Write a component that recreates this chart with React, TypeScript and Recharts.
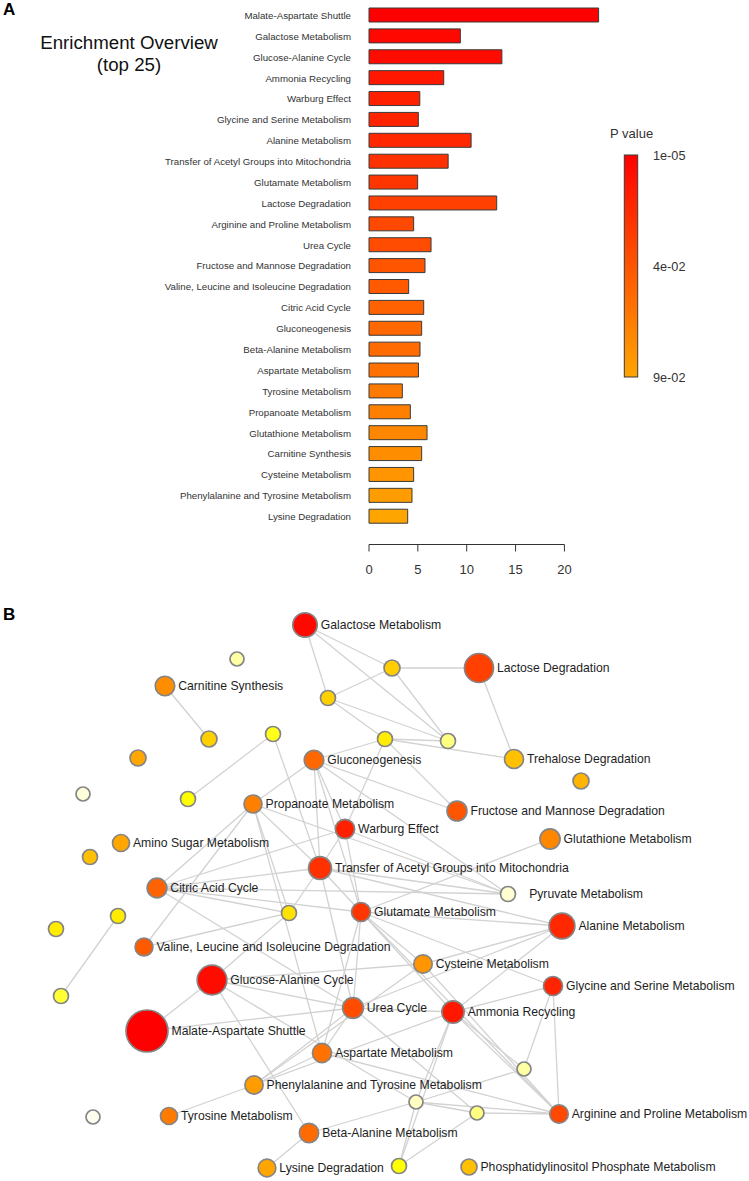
import React from 'react';
import {
  BarChart,
  Bar,
  XAxis,
  YAxis,
  Cell,
  ScatterChart,
  Scatter,
  ZAxis,
  ReferenceLine,
  Customized,
} from 'recharts';

const FONT = '"Liberation Sans", Arial, Helvetica, sans-serif';

// ---- Panel A: top 25 enriched pathways ----
const pathways = [
  'Malate-Aspartate Shuttle',
  'Galactose Metabolism',
  'Glucose-Alanine Cycle',
  'Ammonia Recycling',
  'Warburg Effect',
  'Glycine and Serine Metabolism',
  'Alanine Metabolism',
  'Transfer of Acetyl Groups into Mitochondria',
  'Glutamate Metabolism',
  'Lactose Degradation',
  'Arginine and Proline Metabolism',
  'Urea Cycle',
  'Fructose and Mannose Degradation',
  'Valine, Leucine and Isoleucine Degradation',
  'Citric Acid Cycle',
  'Gluconeogenesis',
  'Beta-Alanine Metabolism',
  'Aspartate Metabolism',
  'Tyrosine Metabolism',
  'Propanoate Metabolism',
  'Glutathione Metabolism',
  'Carnitine Synthesis',
  'Cysteine Metabolism',
  'Phenylalanine and Tyrosine Metabolism',
  'Lysine Degradation',
];

// fold enrichment
const enrichment = [
  23.5, 9.35, 13.6, 7.65, 5.2, 5.05, 10.45, 8.1, 4.98, 13.07, 4.57, 6.35, 5.73,
  4.06, 5.6, 5.39, 5.22, 5.06, 3.41, 4.23, 5.94, 5.39, 4.57, 4.4, 3.96,
];

const pValues = [
  0.00001, 0.0039, 0.0058, 0.011, 0.015, 0.017, 0.019, 0.023, 0.025, 0.03,
  0.034, 0.036, 0.04, 0.043, 0.048, 0.051, 0.054, 0.058, 0.063, 0.066, 0.071,
  0.075, 0.08, 0.085, 0.09,
];

const xTicks = [0, 5, 10, 15, 20];

const legendTicks = [
  { label: '1e-05', p: 0.00001 },
  { label: '4e-02', p: 0.04 },
  { label: '9e-02', p: 0.09 },
];

// ---- Panel B: pathway network ----
type NodeRow = { id: string; label: string; x: number; y: number; v?: number; p?: number };

// layout coordinates of the network (named nodes take ratio / p from panel A)
const networkNodes: NodeRow[] = [
  { id: 'u1', label: '', x: 237, y: 69, v: 1.0, p: 0.83 },
  { id: 'u2', label: '', x: 328, y: 108, v: 1.8, p: 0.3 },
  { id: 'u3', label: '', x: 392, y: 78, v: 2.6, p: 0.28 },
  { id: 'u4', label: '', x: 209, y: 149, v: 2.6, p: 0.3 },
  { id: 'u5', label: '', x: 273, y: 144, v: 1.8, p: 0.55 },
  { id: 'u6', label: '', x: 385, y: 149, v: 1.8, p: 0.45 },
  { id: 'u7', label: '', x: 448, y: 151, v: 1.8, p: 0.75 },
  { id: 'u8', label: '', x: 138, y: 168, v: 2.6, p: 0.1 },
  { id: 'u9', label: '', x: 581, y: 191, v: 2.6, p: 0.15 },
  { id: 'u10', label: '', x: 83, y: 204, v: 1.0, p: 0.95 },
  { id: 'u11', label: '', x: 188, y: 209, v: 1.8, p: 0.5 },
  { id: 'u12', label: '', x: 90, y: 267, v: 1.8, p: 0.2 },
  { id: 'u13', label: '', x: 118, y: 326, v: 1.8, p: 0.45 },
  { id: 'u14', label: '', x: 56, y: 339, v: 1.8, p: 0.45 },
  { id: 'u15', label: '', x: 289, y: 323, v: 1.8, p: 0.4 },
  { id: 'u16', label: '', x: 61, y: 406, v: 1.8, p: 0.6 },
  { id: 'u17', label: '', x: 524, y: 479, v: 1.0, p: 0.83 },
  { id: 'u18', label: '', x: 416, y: 512, v: 1.0, p: 0.9 },
  { id: 'u19', label: '', x: 477, y: 523, v: 1.0, p: 0.75 },
  { id: 'u20', label: '', x: 93, y: 527, v: 1.0, p: 1.0 },
  { id: 'u21', label: '', x: 399, y: 576, v: 1.8, p: 0.5 },
  { id: 'TRE', label: 'Trehalose Degradation', x: 514, y: 169, v: 5.0, p: 0.2 },
  { id: 'AMS', label: 'Amino Sugar Metabolism', x: 121, y: 253, v: 3.4, p: 0.095 },
  { id: 'PYR', label: '   Pyruvate Metabolism', x: 508, y: 304, v: 1.8, p: 0.93 },
  { id: 'PIP', label: 'Phosphatidylinositol Phosphate Metabolism', x: 469, y: 577, v: 2.6, p: 0.2 },
  { id: 'GAL', label: 'Galactose Metabolism', x: 305, y: 35 },
  { id: 'LAC', label: 'Lactose Degradation', x: 479, y: 78 },
  { id: 'CAR', label: 'Carnitine Synthesis', x: 165, y: 96 },
  { id: 'GNG', label: 'Gluconeogenesis', x: 314, y: 170 },
  { id: 'PRO', label: 'Propanoate Metabolism', x: 253, y: 214 },
  { id: 'FRU', label: 'Fructose and Mannose Degradation', x: 457, y: 221 },
  { id: 'WAR', label: 'Warburg Effect', x: 345, y: 239 },
  { id: 'GLT', label: 'Glutathione Metabolism', x: 550, y: 249 },
  { id: 'TRA', label: 'Transfer of Acetyl Groups into Mitochondria', x: 320, y: 278 },
  { id: 'CIT', label: 'Citric Acid Cycle', x: 157, y: 298 },
  { id: 'GLM', label: 'Glutamate Metabolism', x: 361, y: 322 },
  { id: 'ALA', label: 'Alanine Metabolism', x: 562, y: 336 },
  { id: 'VAL', label: 'Valine, Leucine and Isoleucine Degradation', x: 144, y: 357 },
  { id: 'CYS', label: 'Cysteine Metabolism', x: 423, y: 374 },
  { id: 'GAC', label: 'Glucose-Alanine Cycle', x: 212, y: 390 },
  { id: 'GLY', label: 'Glycine and Serine Metabolism', x: 553, y: 396 },
  { id: 'URE', label: 'Urea Cycle', x: 353, y: 418 },
  { id: 'AMM', label: 'Ammonia Recycling', x: 453, y: 422 },
  { id: 'MAL', label: 'Malate-Aspartate Shuttle', x: 147, y: 441 },
  { id: 'ASP', label: 'Aspartate Metabolism', x: 322, y: 463 },
  { id: 'PHE', label: 'Phenylalanine and Tyrosine Metabolism', x: 254, y: 495 },
  { id: 'ARG', label: 'Arginine and Proline Metabolism', x: 559, y: 524 },
  { id: 'TYR', label: 'Tyrosine Metabolism', x: 169, y: 526 },
  { id: 'BET', label: 'Beta-Alanine Metabolism', x: 309, y: 543 },
  { id: 'LYS', label: 'Lysine Degradation', x: 267, y: 578 },
];

const networkEdges: [string, string][] = [
  ['GAL', 'u2'], ['GAL', 'u3'], ['GAL', 'u7'], ['u3', 'u2'], ['u3', 'LAC'], ['u3', 'u7'],
  ['u2', 'u6'], ['u2', 'u7'], ['u6', 'u7'], ['u6', 'TRE'], ['LAC', 'TRE'], ['u6', 'GNG'],
  ['u6', 'WAR'], ['u6', 'FRU'], ['CAR', 'u4'], ['u5', 'u11'], ['u5', 'TRA'],
  ['GNG', 'PRO'], ['GNG', 'TRA'], ['GNG', 'WAR'], ['GNG', 'GLM'], ['GNG', 'FRU'], ['GNG', 'PYR'],
  ['PRO', 'TRA'], ['PRO', 'CIT'], ['PRO', 'VAL'], ['PRO', 'u15'], ['PRO', 'ASP'], ['PRO', 'PYR'],
  ['WAR', 'TRA'], ['WAR', 'GLM'], ['WAR', 'CIT'], ['WAR', 'PYR'],
  ['TRA', 'CIT'], ['TRA', 'u15'], ['TRA', 'GLM'], ['TRA', 'PYR'], ['TRA', 'URE'], ['TRA', 'ALA'],
  ['GLT', 'GLM'],
  ['CIT', 'PYR'], ['CIT', 'u15'], ['CIT', 'URE'], ['CIT', 'GLM'],
  ['VAL', 'u15'], ['GAC', 'u15'], ['GAC', 'CYS'], ['GAC', 'URE'], ['GAC', 'MAL'], ['GAC', 'BET'], ['GAC', 'u18'],
  ['GLM', 'ALA'], ['GLM', 'CYS'], ['GLM', 'URE'], ['GLM', 'AMM'], ['GLM', 'ASP'], ['GLM', 'GLY'], ['GLM', 'ARG'],
  ['CYS', 'ALA'], ['CYS', 'ARG'], ['CYS', 'PHE'],
  ['AMM', 'GLY'], ['AMM', 'ALA'], ['AMM', 'URE'], ['AMM', 'u17'], ['AMM', 'ARG'], ['AMM', 'u18'],
  ['AMM', 'u21'], ['AMM', 'PHE'],
  ['URE', 'MAL'], ['URE', 'ASP'], ['URE', 'PHE'], ['URE', 'u19'], ['URE', 'ALA'],
  ['ASP', 'PHE'], ['ASP', 'ARG'],
  ['u17', 'GLY'], ['u17', 'u18'], ['u18', 'u19'], ['u18', 'ARG'], ['u18', 'u21'], ['u18', 'BET'],
  ['u19', 'ARG'], ['u19', 'u21'], ['ARG', 'GLY'],
  ['u13', 'u16'], ['PHE', 'TYR'], ['BET', 'LYS'],
];

// ---- colour scale for p values ----
const colorStops: [number, number[]][] = [
  [0, [255, 0, 0]],
  [0.04, [255, 85, 0]],
  [0.09, [255, 165, 0]],
  [0.2, [255, 192, 0]],
  [0.3, [255, 208, 0]],
  [0.45, [255, 236, 0]],
  [0.5, [255, 255, 0]],
  [0.75, [255, 255, 128]],
  [1, [255, 255, 240]],
];

function pColor(p: number): string {
  let i = 0;
  while (i < colorStops.length - 2 && p > colorStops[i + 1][0]) i++;
  const [p0, c0] = colorStops[i];
  const [p1, c1] = colorStops[i + 1];
  const t = Math.max(0, Math.min(1, (p - p0) / (p1 - p0)));
  const c = c0.map((v, k) => Math.round(v + (c1[k] - v) * t));
  return `rgb(${c[0]},${c[1]},${c[2]})`;
}

// fraction along the colour bar (top = most significant)
function legendPos(p: number): number {
  if (p <= 0.04) return (0.5 * (p - 0.00001)) / (0.04 - 0.00001);
  return 0.5 + (0.5 * (p - 0.04)) / (0.09 - 0.04);
}

const barData = pathways.map((name, i) => ({ name, value: enrichment[i], p: pValues[i] }));

const nodeData = networkNodes.map((n) => {
  const k = pathways.indexOf(n.label);
  return {
    ...n,
    v: k >= 0 ? enrichment[k] : (n.v as number),
    p: k >= 0 ? pValues[k] : (n.p as number),
  };
});
const nodeById: Record<string, (typeof nodeData)[number]> = {};
nodeData.forEach((n) => (nodeById[n.id] = n));

// ---- decorations ----
const PanelAExtras = () => {
  const barTop = 155;
  const barBottom = 377;
  const barX = 624.3;
  const barW = 13.4;
  return (
    <g fontFamily={FONT}>
      <text x={3} y={15} fontSize={17} fontWeight="bold" fill="#000">A</text>
      <text x={129} y={49} fontSize={18.7} textAnchor="middle" fill="#111">Enrichment Overview</text>
      <text x={129} y={71} fontSize={18.7} textAnchor="middle" fill="#111">(top 25)</text>
      <defs>
        <linearGradient id="pgrad" x1="0" y1="0" x2="0" y2="1">
          {legendTicks.map((t) => (
            <stop key={t.label} offset={legendPos(t.p)} stopColor={pColor(t.p)} />
          ))}
        </linearGradient>
      </defs>
      <text x={610} y={138} fontSize={13} fill="#333">P value</text>
      <rect x={barX} y={barTop} width={barW} height={barBottom - barTop} fill="url(#pgrad)" stroke="#3a3a3a" strokeWidth={1} />
      {legendTicks.map((t) => (
        <text
          key={t.label}
          x={653}
          y={barTop + legendPos(t.p) * (barBottom - barTop)}
          dy="0.36em"
          fontSize={12.7}
          fill="#333"
        >
          {t.label}
        </text>
      ))}
    </g>
  );
};

const PanelBExtras = () => (
  <text x={3} y={30} fontSize={17} fontWeight="bold" fontFamily={FONT} fill="#000">B</text>
);

const NodeShape = (props: any) => {
  const { cx, cy, size, width, payload } = props;
  const r = typeof size === 'number' ? size : width / 2;
  return (
    <g>
      <circle cx={cx} cy={cy} r={r} fill={pColor(payload.p)} stroke="#858585" strokeWidth={1.7} />
      {payload.label ? (
        <text
          x={cx + r + 3.5}
          y={cy}
          dy="0.35em"
          fontSize={12.2}
          fontFamily={FONT}
          fill="#1e1e1e"
          style={{ whiteSpace: 'pre' }}
        >
          {payload.label}
        </text>
      ) : null}
    </g>
  );
};

export default function App() {
  return (
    <div style={{ position: 'absolute', left: 0, top: 0, width: 749, height: 1181, background: '#fff' }}>
      <BarChart
        width={749}
        height={590}
        layout="vertical"
        data={barData}
        margin={{ top: 5, right: 145.5, bottom: 15.5, left: 0 }}
      >
        <XAxis
          type="number"
          dataKey="value"
          domain={[0, 24]}
          ticks={xTicks}
          height={30}
          axisLine={{ stroke: '#333', strokeWidth: 1, strokeDasharray: '195.4 1000' }}
          tickLine={{ stroke: '#333', strokeWidth: 1 }}
          tickSize={7}
          tickMargin={13.5}
          tick={{ fill: '#333', fontSize: 13, fontFamily: FONT }}
        />
        <YAxis
          type="category"
          dataKey="name"
          width={369}
          interval={0}
          axisLine={false}
          tickLine={false}
          tickSize={0}
          tickMargin={18}
          padding={{ top: 0, bottom: 17.4 }}
          tick={{ fill: '#333', fontSize: 9.7, fontFamily: FONT }}
        />
        <Bar dataKey="value" barSize={14} stroke="#3a3a3a" strokeWidth={1} isAnimationActive={false}>
          {barData.map((d) => (
            <Cell key={d.name} fill={pColor(d.p)} />
          ))}
        </Bar>
        <Customized component={PanelAExtras} />
      </BarChart>
      <ScatterChart width={749} height={591} margin={{ top: 0, right: 0, bottom: 0, left: 0 }}>
        <XAxis type="number" dataKey="x" domain={[0, 749]} hide />
        <YAxis type="number" dataKey="y" domain={[0, 591]} reversed hide />
        <ZAxis type="number" dataKey="v" domain={[0, 24]} range={[6.38, 21.3]} />
        {networkEdges.map(([a, b]) => (
          <ReferenceLine
            key={a + '-' + b}
            segment={[
              { x: nodeById[a].x, y: nodeById[a].y },
              { x: nodeById[b].x, y: nodeById[b].y },
            ]}
            stroke="#d2d2d2"
            strokeWidth={1.3}
          />
        ))}
        <Scatter data={nodeData} shape={NodeShape} isAnimationActive={false} />
        <Customized component={PanelBExtras} />
      </ScatterChart>
    </div>
  );
}
